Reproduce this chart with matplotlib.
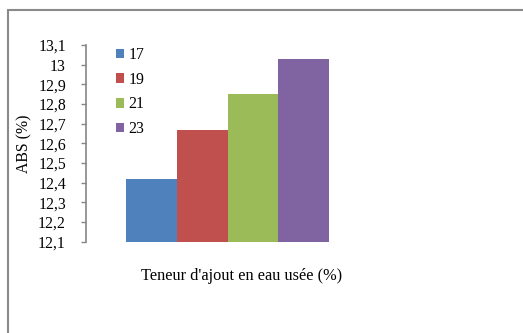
import matplotlib
matplotlib.use("Agg")
import matplotlib.pyplot as plt
from matplotlib.patches import Rectangle, Patch

plt.rcParams["font.family"] = ["Liberation Serif", "DejaVu Serif"]

# wastewater addition levels and absorption values
series_labels = ["17", "19", "21", "23"]
abs_values = [12.42, 12.67, 12.85, 13.03]
colors = ["#4f81bd", "#c0504d", "#9bbb59", "#8064a2"]
y_ticks = [12.1, 12.2, 12.3, 12.4, 12.5, 12.6, 12.7, 12.8, 12.9, 13.0, 13.1]
y_tick_labels = ["12,1", "12,2", "12,3", "12,4", "12,5", "12,6", "12,7",
                 "12,8", "12,9", "13", "13,1"]

W, H = 523, 333
fig = plt.figure(figsize=(W / 100, H / 100), dpi=100)
ax = fig.add_axes([86 / W, 1 - 241.7 / H, (369 - 86) / W, (241.7 - 45) / H])

base = 12.1
bw = 0.18
for i, (lab, v, c) in enumerate(zip(series_labels, abs_values, colors)):
    ax.bar((i - 1.5) * bw, v - base, bottom=base, width=bw, color=c,
           edgecolor="none", label=lab)

ax.set_xlim(-0.5, 0.5)
ax.set_ylim(12.1, 13.1)
ax.set_yticks(y_ticks)
ax.set_yticklabels(y_tick_labels, fontsize=11.3)
ax.set_xticks([])
for s in ("top", "right", "bottom"):
    ax.spines[s].set_visible(False)
ax.spines["left"].set_color("#868686")
ax.spines["left"].set_linewidth(1.2)
ax.tick_params(axis="y", direction="out", length=3.5, width=1.0,
               color="#868686", pad=11)

ax.set_ylabel("ABS (%)", fontsize=11.3, labelpad=4)

handles = [Patch(facecolor=c, edgecolor="none") for c in colors]
fig.legend(handles, series_labels, loc="upper left",
           bbox_to_anchor=(108 / W, 1 - 39 / H), frameon=False, fontsize=11.3,
           handlelength=0.55, handleheight=0.55, handletextpad=0.25,
           labelspacing=0.56, borderpad=0)

fig.text(242 / W, 1 - 276 / H, "Teneur d'ajout en eau usée (%)",
         ha="center", va="center", fontsize=11.8)

# outer chart frame
fig.patches.append(Rectangle((8 / W, -0.2), 1.2, 1.2 - 9.5 / H,
                             transform=fig.transFigure, fill=False,
                             edgecolor="#8a8a8a", linewidth=1.5))

fig.savefig("out.png", dpi=100)
